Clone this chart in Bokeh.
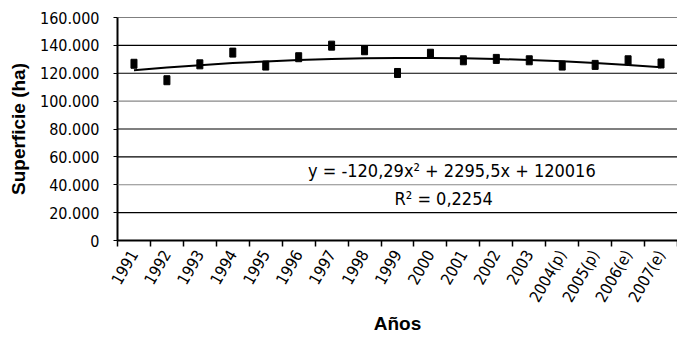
import math
from bokeh.plotting import figure
from bokeh.models import ColumnDataSource, FixedTicker, Span, Label, Range1d
from bokeh.embed import file_html
from bokeh.resources import INLINE

years = ["1991", "1992", "1993", "1994", "1995", "1996", "1997", "1998", "1999",
         "2000", "2001", "2002", "2003", "2004(p)", "2005(p)", "2006(e)", "2007(e)"]
superficie = [126800, 115000, 126400, 134800, 125500, 131500, 139800, 136500, 120200,
              134000, 129300, 130300, 129300, 125500, 126000, 129300, 127000]
# trend line coefficients as printed on the chart (a*x^2 + b*x + c, x = 1..n)
trend_coef = [-120.29, 2295.5, 120016]
y_ticks = [0, 20000, 40000, 60000, 80000, 100000, 120000, 140000, 160000]
y_tick_labels = ["0", "20.000", "40.000", "60.000", "80.000", "100.000",
                 "120.000", "140.000", "160.000"]
eq_text = "y = -120,29x\u00b2 + 2295,5x + 120016"
r2_text = "R\u00b2 = 0,2254"

idx = list(range(1, len(years) + 1))
trend = [trend_coef[0] * i * i + trend_coef[1] * i + trend_coef[2] for i in idx]

FONT = "'DejaVu Sans Condensed', 'Liberation Sans'"

p = figure(width=677, height=337, output_backend="svg", toolbar_location=None,
           x_range=Range1d(0.5, len(years) + 0.5), y_range=Range1d(0, 160000),
           min_border_left=117, min_border_right=0, min_border_top=17, min_border_bottom=97)
p.outline_line_color = None
p.grid.visible = False
p.background_fill_color = "white"

for v in y_ticks:
    col = "#888888" if v in (40000, 100000) else "black"
    p.add_layout(Span(location=v, dimension="width", line_color=col, line_width=1.2))

src = ColumnDataSource(dict(x=idx, y=superficie))
p.line(idx, trend, line_color="black", line_width=2)
p.rect(x="x", y="y", width=6, height=9, width_units="screen", height_units="screen",
       fill_color="black", line_color="black", source=src)

# y axis
p.yaxis.ticker = FixedTicker(ticks=y_ticks)
p.yaxis.major_label_overrides = {v: s for v, s in zip(y_ticks, y_tick_labels)}
p.yaxis.minor_tick_line_color = None
p.yaxis.major_tick_in = 0
p.yaxis.major_tick_out = 4
p.yaxis.major_tick_line_color = "black"
p.yaxis.axis_line_color = "black"
p.yaxis.axis_line_width = 2
p.yaxis.major_label_text_font = FONT
p.yaxis.major_label_text_font_size = "16px"
p.yaxis.major_label_text_color = "black"
p.yaxis.major_label_standoff = 14
p.yaxis.axis_label = "Superficie (ha)"
p.yaxis.axis_label_text_font = "Liberation Sans"
p.yaxis.axis_label_text_font_style = "bold"
p.yaxis.axis_label_text_font_size = "19px"
p.yaxis.axis_label_text_color = "black"
p.yaxis.axis_label_standoff = 8

# x axis
p.xaxis.ticker = FixedTicker(ticks=idx, minor_ticks=[i - 0.5 for i in idx] + [len(idx) + 0.5])
p.xaxis.major_label_overrides = {i: s for i, s in zip(idx, years)}
p.xaxis.major_tick_line_color = None
p.xaxis.major_tick_out = 0
p.xaxis.minor_tick_line_color = "black"
p.xaxis.minor_tick_line_width = 1.5
p.xaxis.minor_tick_in = 0
p.xaxis.minor_tick_out = 6
p.xaxis.axis_line_color = "black"
p.xaxis.axis_line_width = 2
p.xaxis.major_label_orientation = math.pi / 3
p.xaxis.major_label_text_font = FONT
p.xaxis.major_label_text_font_size = "16px"
p.xaxis.major_label_text_color = "black"
p.xaxis.major_label_standoff = 5
p.xaxis.axis_label = "Años"
p.xaxis.axis_label_text_font = "Liberation Sans"
p.xaxis.axis_label_text_font_style = "bold"
p.xaxis.axis_label_text_font_size = "19px"
p.xaxis.axis_label_text_color = "black"
p.xaxis.axis_label_standoff = 0

p.add_layout(Label(x=10.65, y=50300, text=eq_text, text_align="center", text_baseline="middle",
                   text_font=FONT, text_font_size="18px", text_color="black"))
p.add_layout(Label(x=10.4, y=30200, text=r2_text, text_align="center", text_baseline="middle",
                   text_font=FONT, text_font_size="18px", text_color="black"))

open("out.html", "w").write(file_html(p, INLINE))
